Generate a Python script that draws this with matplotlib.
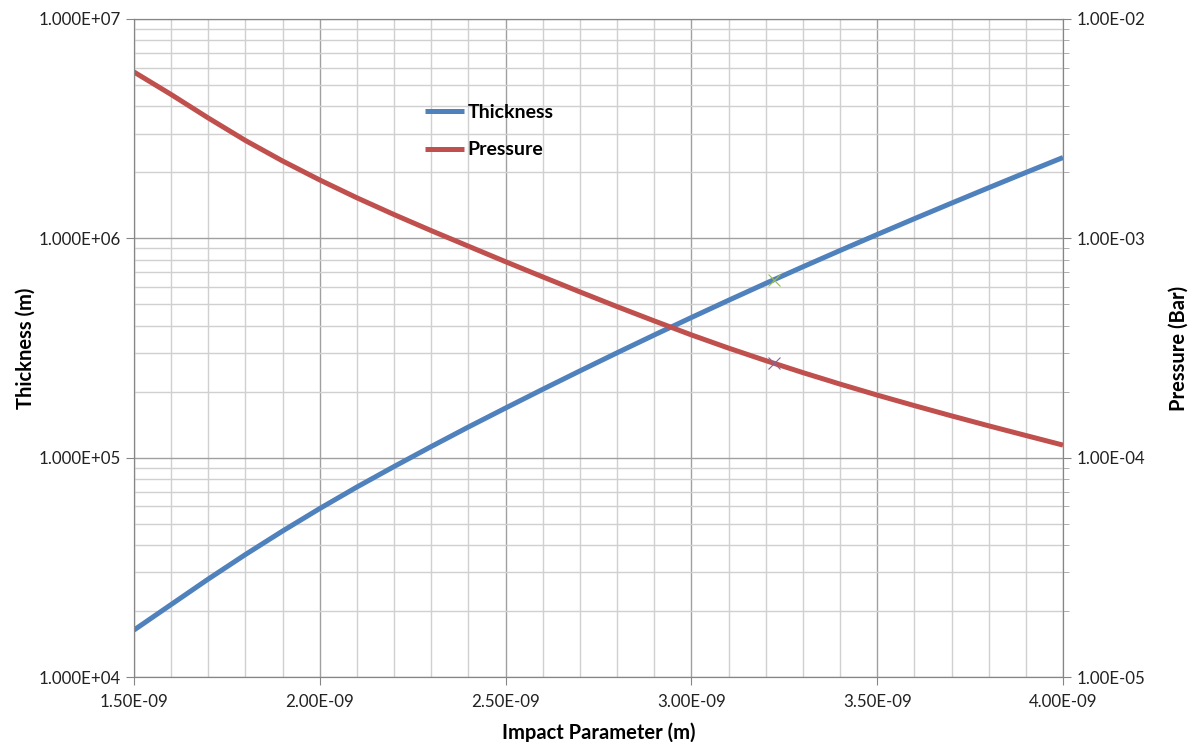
import numpy as np
import matplotlib
matplotlib.use('agg')
import matplotlib.pyplot as plt
from matplotlib.ticker import FixedLocator, FuncFormatter, LogLocator, NullFormatter

plt.rcParams['font.family'] = ['Lato', 'DejaVu Sans']

# impact parameter (m)
x = np.array([1.5, 1.6, 1.7, 1.8, 1.9, 2.0, 2.1, 2.2, 2.3, 2.4, 2.5, 2.6, 2.7,
              2.8, 2.9, 3.0, 3.1, 3.2, 3.3, 3.4, 3.5, 3.6, 3.7, 3.8, 3.9, 4.0]) * 1e-9
thickness = np.array([1.637e4, 2.140e4, 2.797e4, 3.618e4, 4.630e4, 5.864e4, 7.349e4, 9.114e4,
                      1.124e5, 1.380e5, 1.684e5, 2.050e5, 2.486e5, 3.007e5, 3.625e5, 4.355e5,
                      5.218e5, 6.231e5, 7.417e5, 8.800e5, 1.041e6, 1.229e6, 1.447e6, 1.701e6,
                      1.996e6, 2.336e6])
pressure = np.array([5.733e-3, 4.527e-3, 3.537e-3, 2.793e-3, 2.252e-3, 1.845e-3, 1.530e-3,
                     1.283e-3, 1.084e-3, 9.207e-4, 7.823e-4, 6.672e-4, 5.699e-4, 4.883e-4,
                     4.203e-4, 3.628e-4, 3.159e-4, 2.770e-4, 2.442e-4, 2.165e-4, 1.929e-4,
                     1.727e-4, 1.551e-4, 1.397e-4, 1.262e-4, 1.141e-4])
# stray single points
mark_x = [3.223e-9]
mark_thick = [6.46e5]
mark_press = [2.69e-4]

blue = '#4f81bd'
red = '#c0504d'

fig = plt.figure(figsize=(11.94, 7.42), dpi=100)
ax = fig.add_axes([0.1122, 0.0876, 0.7781, 0.8868])
ax2 = ax.twinx()

l1, = ax.plot(x, thickness, color=blue, lw=3.6, solid_capstyle='butt',
              solid_joinstyle='round', label='Thickness')
ax.plot(mark_x, mark_thick, 'x', color='#9bbb59', ms=9, mew=0.8)
l2, = ax2.plot(x, pressure, color=red, lw=3.6, solid_capstyle='butt',
               solid_joinstyle='round', label='Pressure')
ax2.plot(mark_x, mark_press, 'x', color='#8064a2', ms=9, mew=0.8)

ax.set_xlim(1.5e-9, 4.0e-9)
ax.set_yscale('log')
ax.set_ylim(1e4, 1e7)
ax2.set_yscale('log')
ax2.set_ylim(1e-5, 1e-2)

ax.xaxis.set_major_locator(FixedLocator([1.5e-9, 2.0e-9, 2.5e-9, 3.0e-9, 3.5e-9, 4.0e-9]))
ax.xaxis.set_minor_locator(FixedLocator(np.arange(1.5, 4.01, 0.1) * 1e-9))
ax.xaxis.set_major_formatter(FuncFormatter(lambda v, p: '%.2E' % v))

ax.yaxis.set_major_locator(LogLocator(base=10, numticks=10))
ax.yaxis.set_minor_locator(LogLocator(base=10, subs=np.arange(2, 10), numticks=20))
ax.yaxis.set_major_formatter(FuncFormatter(lambda v, p: '%.3E' % v))
ax.yaxis.set_minor_formatter(NullFormatter())

ax2.yaxis.set_major_locator(LogLocator(base=10, numticks=10))
ax2.yaxis.set_minor_locator(LogLocator(base=10, subs=np.arange(2, 10), numticks=20))
ax2.yaxis.set_major_formatter(FuncFormatter(lambda v, p: '%.2E' % v))
ax2.yaxis.set_minor_formatter(NullFormatter())

ax.grid(True, which='minor', color='#d0d0d0', lw=1.0)
ax.grid(True, which='major', color='#a0a0a0', lw=1.0)
ax.set_axisbelow(True)

ax.tick_params(axis='both', which='major', direction='out', length=6, color='#868686',
               labelsize=12.2, colors='#222222')
ax.tick_params(axis='x', which='minor', length=0)
ax.tick_params(axis='y', which='minor', length=0)
ax.tick_params(axis='x', pad=6)
ax2.tick_params(axis='y', which='major', direction='out', length=6, color='#868686',
                labelsize=12.2, colors='#222222')
ax2.tick_params(axis='y', which='minor', direction='out', length=4, color='#a0a0a0')

for a in (ax, ax2):
    for s in a.spines.values():
        s.set_color('#868686')

ax.set_xlabel('Impact Parameter (m)', fontsize=14.5, fontweight='bold', labelpad=9)
ax.set_ylabel('Thickness (m)', fontsize=14.5, fontweight='bold', labelpad=2)
ax2.set_ylabel('Pressure (Bar)', fontsize=14.5, fontweight='bold', labelpad=17)

leg = fig.legend(handles=[l1, l2], loc='upper left', bbox_to_anchor=(425 / 1194, 1 - 104 / 742),
                 frameon=False, fontsize=14, handlelength=2.0, handletextpad=0.2,
                 labelspacing=1.05, borderpad=0, borderaxespad=0)
for t in leg.get_texts():
    t.set_fontweight('bold')

fig.savefig('out.png', dpi=100)
